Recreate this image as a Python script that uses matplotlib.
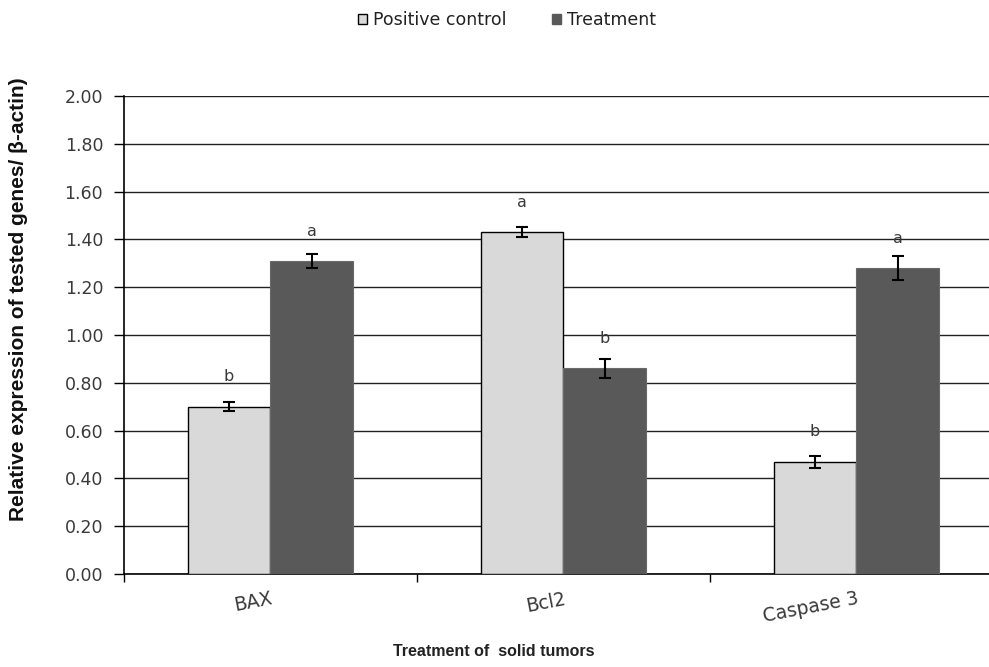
import numpy as np
import matplotlib.pyplot as plt
from matplotlib.patches import Patch

plt.rcParams['font.family'] = ['DejaVu Sans']

# data
genes = ["BAX", "Bcl2", "Caspase 3"]
positive_control = [0.70, 1.43, 0.47]
positive_control_err = [0.02, 0.02, 0.025]
treatment = [1.31, 0.86, 1.28]
treatment_err = [0.03, 0.04, 0.05]
letters_pc = ["b", "a", "b"]
letters_tr = ["a", "b", "a"]

LIGHT = "#d9d9d9"
DARK = "#595959"
TXT = "#3a3a3a"

fig = plt.figure(figsize=(9.89, 6.67), dpi=100)
# axes runs a bit past the right border (the last category is clipped)
ax = fig.add_axes([124 / 989, 93 / 667, 879 / 989, 478 / 667])

x = np.arange(len(genes))
w = 0.283
ax.bar(x - w / 2, positive_control, width=w, color=LIGHT, edgecolor="black",
       linewidth=1.0, zorder=3)
ax.bar(x + w / 2, treatment, width=w, color=DARK, edgecolor="#6a6a6a",
       linewidth=0.8, zorder=3)
ax.errorbar(x - w / 2, positive_control, yerr=positive_control_err, fmt="none",
            ecolor="black", elinewidth=1.5, capsize=4.5, capthick=1.5, zorder=4)
ax.errorbar(x + w / 2, treatment, yerr=treatment_err, fmt="none",
            ecolor="black", elinewidth=1.5, capsize=4.5, capthick=1.5, zorder=4)

for xi, v, s in zip(x - w / 2, positive_control, letters_pc):
    ax.text(xi, v + 0.125, s, ha="center", va="center", fontsize=11.5, color=TXT)
for xi, v, s in zip(x + w / 2, treatment, letters_tr):
    ax.text(xi, v + 0.125, s, ha="center", va="center", fontsize=11.5, color=TXT)

ax.set_xlim(-0.5, 2.5)
ax.set_ylim(0, 2.0)
yt = np.arange(0, 2.01, 0.2)
ax.set_yticks(yt)
ax.set_yticklabels([f"{t:.2f}" for t in yt], fontsize=12.5, color=TXT)
ax.yaxis.grid(True, color="#222222", linewidth=1.0, zorder=0)
ax.set_axisbelow(True)

# category boundaries as ticks, names at the centres
ax.set_xticks(np.arange(-0.5, 2.6, 1.0))
ax.set_xticklabels([])
ax.set_xticks(x, minor=True)
ax.set_xticklabels(genes, minor=True, rotation=11, ha="right",
                   rotation_mode="anchor", fontsize=13.5, color=TXT)
ax.tick_params(axis="x", which="minor", length=0, pad=11)
ax.tick_params(axis="x", which="major", length=6, width=1, direction="out")
ax.tick_params(axis="y", length=7, width=1, direction="out", pad=8)

for side in ["top", "right"]:
    ax.spines[side].set_visible(False)
for side in ["left", "bottom"]:
    ax.spines[side].set_color("black")
    ax.spines[side].set_linewidth(1.2)

fig.text(19 / 989, 1 - 299 / 667, "Relative expression of tested genes/ \u03b2-actin)",
         rotation=90, ha="center", va="center", fontsize=15, fontweight="bold",
         family=["Liberation Sans", "DejaVu Sans"], color="#111111")
fig.text(494 / 989, 1 - 652 / 667, "Treatment of  solid tumors", ha="center",
         va="center", fontsize=11.5, fontweight="bold", color="#222222",
         family=["Liberation Sans", "DejaVu Sans"])

handles = [Patch(facecolor=LIGHT, edgecolor="black", linewidth=1.0),
           Patch(facecolor=DARK, edgecolor=DARK)]
fig.legend(handles, ["Positive control", "Treatment"], loc="center",
           bbox_to_anchor=(507 / 989, 1 - 20 / 667), ncol=2, frameon=False,
           fontsize=12.5, handlelength=0.55, handleheight=0.55, handletextpad=0.35,
           columnspacing=2.6, labelcolor="#222222")

fig.savefig("out.png", dpi=100)
